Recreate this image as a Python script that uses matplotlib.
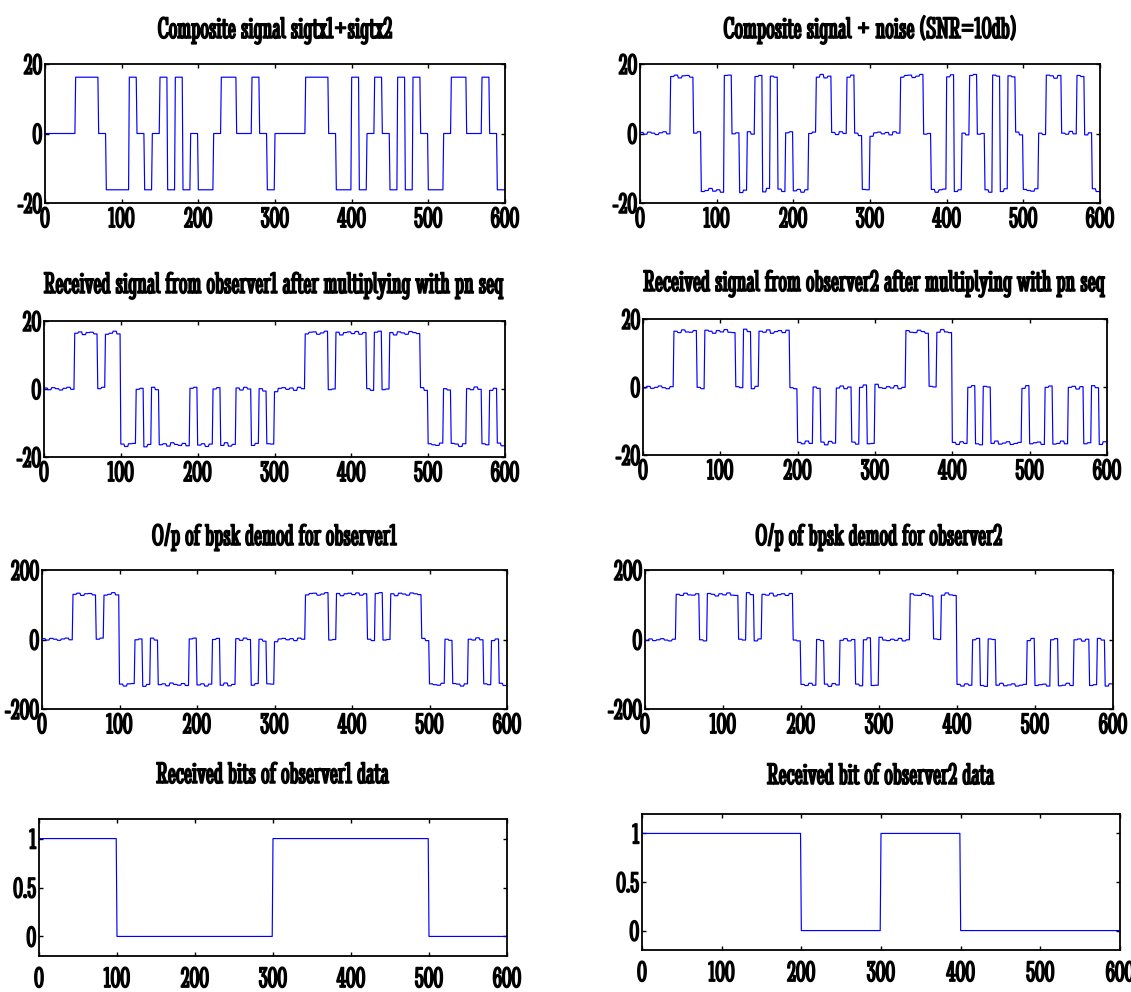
import numpy as np
import matplotlib
matplotlib.use("Agg")
import matplotlib.pyplot as plt
import matplotlib.patheffects as pe

# ---------------- data ----------------
chip_len = 10
# composite signal sigtx1+sigtx2, level per chip (+1 / 0 / -1)
composite_chips = [0, 0, 0, 0, 1, 1, 1, 0, -1, -1,
                   -1, 1, 0, -1, 0, 1, -1, 1, -1, 0,
                   -1, -1, 0, 1, 1, 0, 0, 1, 0, -1,
                   0, 0, 0, 0, 1, 1, 1, 0, -1, -1,
                   1, -1, 0, 1, 0, -1, 1, -1, 1, 0,
                   -1, -1, 0, 1, 1, 0, 0, 1, 0, -1]
# received signal after multiplying with pn seq, observer 1
received1_chips = [0, 0, 0, 0, 1, 1, 1, 0, 1, 1,
                   -1, -1, 0, -1, 0, -1, -1, -1, -1, 0,
                   -1, -1, 0, -1, -1, 0, 0, -1, 0, -1,
                   0, 0, 0, 0, 1, 1, 1, 0, 1, 1,
                   1, 1, 0, 1, 0, 1, 1, 1, 1, 0,
                   -1, -1, 0, -1, -1, 0, 0, -1, 0, -1]
# received signal after multiplying with pn seq, observer 2
received2_chips = [0, 0, 0, 0, 1, 1, 1, 0, 1, 1,
                   1, 1, 0, 1, 0, 1, 1, 1, 1, 0,
                   -1, -1, 0, -1, -1, 0, 0, -1, 0, -1,
                   0, 0, 0, 0, 1, 1, 1, 0, 1, 1,
                   -1, -1, 0, -1, 0, -1, -1, -1, -1, 0,
                   -1, -1, 0, -1, -1, 0, 0, -1, 0, -1]
composite_level = 16.2
received_level = 16.4
demod_level = 130.0

# small ripple of the noisy traces (one value per 5 samples)
noise_step = 5
noise = [0.3, -0.2, 0.4, 0.1, -0.3, 0.2, 0.5, -0.1, 0.0, 0.4,
         -0.4, 0.2, 0.3, -0.2, 0.1, 0.5, -0.3, 0.0, 0.6, -0.2,
         0.2, -0.5, 0.3, 0.4, -0.1, 0.2, -0.6, 0.1, 0.5, -0.2,
         0.0, 0.3, -0.4, 0.6, 0.1, -0.2, 0.4, -0.3, 0.2, 0.5,
         -0.1, 0.3, -0.5, 0.2, 0.0, 0.4, -0.2, 0.6, -0.4, 0.1,
         0.3, -0.3, 0.5, 0.0, -0.2, 0.4, 0.1, -0.6, 0.3, 0.2,
         -0.8, 0.2, 0.4, -0.1, 0.3, -0.4, 0.5, 0.1, -0.2, 0.3,
         0.4, -0.3, 0.1, 0.6, -0.2, 0.0, 0.3, -0.5, 0.2, 0.4,
         -0.1, 0.5, -0.3, 0.2, 0.1, -0.4, 0.3, 0.6, -0.2, 0.0,
         0.2, -0.5, 0.4, 0.1, -0.3, 0.5, 0.2, -0.1, 0.4, -0.4,
         0.3, 0.0, -0.2, 0.5, 0.1, -0.3, 0.4, 0.2, -0.5, 0.3,
         0.1, -0.2, 0.6, -0.1, 0.3, 0.0, -0.4, 0.2, 0.5, -0.3]
demod_noise_gain = 8.0

bit_len = 100
bits_observer1 = [1, 0, 0, 1, 1, 0]
bits_observer2 = [1, 1, 0, 1, 0, 0]

titles = ["Composite signal sigtx1+sigtx2",
          "Composite signal + noise (SNR=10db)",
          "Received signal from observer1 after multiplying with pn seq",
          "Received signal from observer2 after multiplying with pn seq",
          "O/p of bpsk demod for observer1",
          "O/p of bpsk demod for observer2",
          "Received bits of observer1 data",
          "Received bit of observer2 data"]

xticks = [0, 100, 200, 300, 400, 500, 600]
xtick_labels = ["0", "100", "200", "300", "400", "500", "600"]
yticks_20 = [-20, 0, 20]
ytick_labels_20 = ["-20", "0", "20"]
yticks_200 = [-200, 0, 200]
ytick_labels_200 = ["-200", "0", "200"]
yticks_bits = [0, 0.5, 1]
ytick_labels_bits = ["0", "0.5", "1"]

# ---------------- build sample sequences ----------------
def chips_to_samples(chips, level):
    s = np.repeat(np.asarray(chips, float), chip_len) * level
    return np.append(s, s[-1])

def ripple(gain):
    r = np.repeat(np.asarray(noise, float), noise_step) * gain
    return np.append(r, r[-1])

def bits_to_samples(bits):
    s = np.repeat(np.asarray(bits, float), bit_len)
    return np.append(s, s[-1])

n = len(composite_chips) * chip_len
x = np.arange(n + 1)

sig_comp = chips_to_samples(composite_chips, composite_level)
sig_noisy = chips_to_samples(composite_chips, received_level) + ripple(1.0)
sig_rx1 = chips_to_samples(received1_chips, received_level) + ripple(1.0)
sig_rx2 = chips_to_samples(received2_chips, received_level) + ripple(-1.0)
sig_dm1 = chips_to_samples(received1_chips, demod_level) + ripple(demod_noise_gain)
sig_dm2 = chips_to_samples(received2_chips, demod_level) + ripple(-demod_noise_gain)
sig_b1 = bits_to_samples(bits_observer1)
sig_b2 = bits_to_samples(bits_observer2)

# ---------------- figure ----------------
W, H = 1131, 992
fig = plt.figure(figsize=(W / 100, H / 100), dpi=100)
FAM = ["Stint Ultra Condensed", "Liberation Serif", "DejaVu Sans"]
bold = [pe.withStroke(linewidth=1.1, foreground="black")]

def add_ax(l, t, r, b):
    return fig.add_axes([l / W, 1 - b / H, (r - l) / W, (b - t) / H])

# (left, top, right, bottom) in pixels
boxes = [(45, 64, 505, 203), (640, 64, 1100, 203),
         (44, 321, 505, 457), (643, 319, 1107, 455),
         (42, 570, 507, 709), (645, 570, 1113, 709),
         (39, 819, 507, 956), (642, 814, 1120, 950)]
title_gap_px = [26, 26, 28, 28, 25, 25, 36, 30]
signals = [sig_comp, sig_noisy, sig_rx1, sig_rx2, sig_dm1, sig_dm2, sig_b1, sig_b2]
ylims = [(-20, 20)] * 4 + [(-200, 200)] * 2 + [(-0.2, 1.2)] * 2
yt = [yticks_20] * 4 + [yticks_200] * 2 + [yticks_bits] * 2
ytl = [ytick_labels_20] * 4 + [ytick_labels_200] * 2 + [ytick_labels_bits] * 2

for i in range(8):
    ax = add_ax(*boxes[i])
    ax.plot(x, signals[i], color="#0000ff", lw=0.85)
    ax.set_xlim(0, 600)
    ax.set_ylim(*ylims[i])
    ax.set_xticks(xticks)
    ax.set_xticklabels(xtick_labels, family=FAM, fontsize=21, path_effects=bold)
    ax.set_yticks(yt[i])
    ax.set_yticklabels(ytl[i], family=FAM, fontsize=21, path_effects=bold)
    ax.tick_params(direction="in", top=True, right=True, length=3, width=1.0,
                   pad=3 if i < 6 else 8)
    ax.tick_params(axis="y", pad=2)
    for sp in ax.spines.values():
        sp.set_linewidth(1.3)
    ax.set_title(titles[i], family=FAM, fontsize=22, path_effects=bold,
                 pad=title_gap_px[i] * 0.72)

fig.savefig("out.png", dpi=100)
